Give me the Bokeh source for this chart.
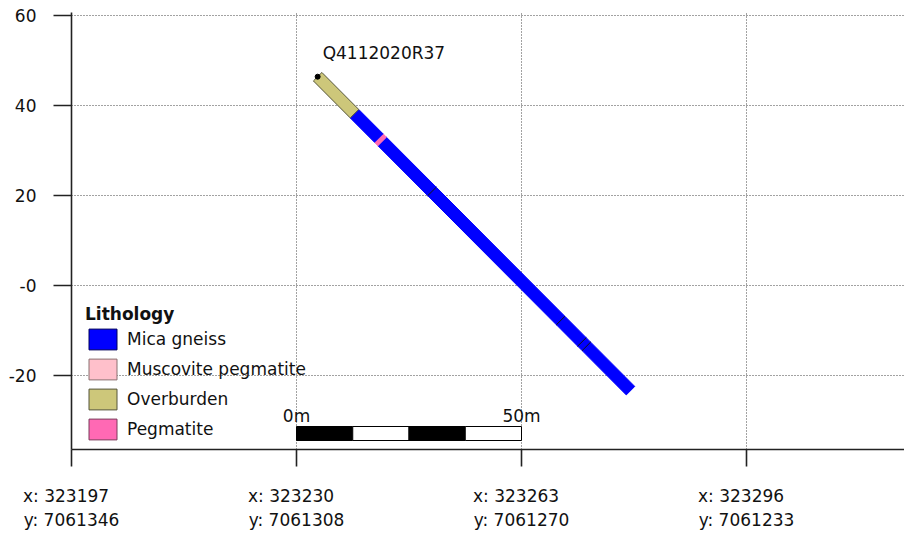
import math
from bokeh.plotting import figure
from bokeh.models import FixedTicker, Legend, LegendItem, Range1d
from bokeh.core.properties import value
from bokeh.embed import file_html
from bokeh.resources import INLINE

# ---------------- data ----------------
section_ticks = [0, 50, 100, 150]
tick_easting = [323197, 323230, 323263, 323296]
tick_northing = [7061346, 7061308, 7061270, 7061233]
elev_ticks = [-20, 0, 20, 40, 60]
elev_labels = ["-20", "-0", "20", "40", "60"]

hole_id = "Q4112020R37"
collar_dist = 54.7
collar_elev = 46.4
hole_dip = 45.1
interval_from = [0.0, 11.6, 19.4, 20.3, 36.0, 76.5, 83.2, 84.6]
interval_to = [11.6, 19.4, 20.3, 36.0, 76.5, 83.2, 84.6, 98.5]
interval_lith = ["Overburden", "Mica gneiss", "Pegmatite", "Mica gneiss",
                 "Mica gneiss", "Mica gneiss", "Mica gneiss", "Mica gneiss"]

lith_names = ["Mica gneiss", "Muscovite pegmatite", "Overburden", "Pegmatite"]
lith_fill = ["#0000ff", "#ffc0cb", "#cdc77a", "#ff69b4"]
lith_edge = ["#00005a", "#8a7070", "#55553a", "#7a3a5a"]

scale_start = 50
scale_len = 50
scale_parts = 4

# ---------------- layout ----------------
PX = 4.5            # pixels per metre (both axes)
FONT = "DejaVu Sans"
W, H = 904, 540
BL, BB, BT, BR = 71, 91, 12, 0
frame_w = W - BL - BR
frame_h = H - BT - BB
y_bottom = -164 / PX

p = figure(width=W, height=H, output_backend="svg", toolbar_location=None,
           title=None,
           x_range=Range1d(0, frame_w / PX),
           y_range=Range1d(y_bottom, y_bottom + frame_h / PX),
           min_border_left=BL, min_border_right=BR,
           min_border_top=BT, min_border_bottom=BB)
p.outline_line_color = None
p.background_fill_color = "white"

# axes
for ax in (p.xaxis[0], p.yaxis[0]):
    ax.axis_line_color = "#222"
    ax.axis_line_width = 1.6
    ax.major_tick_line_color = "#222"
    ax.major_tick_line_width = 1.6
    ax.major_tick_in = 0
    ax.minor_tick_in = 0
    ax.minor_tick_out = 0
    ax.major_label_text_font = FONT
    ax.major_label_text_font_size = "17px"
    ax.major_label_text_color = "#111"

p.yaxis.ticker = FixedTicker(ticks=elev_ticks)
p.yaxis.major_label_overrides = {t: l for t, l in zip(elev_ticks, elev_labels)}
p.yaxis.major_tick_out = 18
p.yaxis.major_label_standoff = 17

p.xaxis.ticker = FixedTicker(ticks=section_ticks)
p.xaxis.major_label_overrides = {
    t: "x: %d\u00a0\u00a0\ny: %d" % (e, n)
    for t, e, n in zip(section_ticks, tick_easting, tick_northing)
}
p.xaxis.major_tick_out = 17
p.xaxis.major_label_standoff = 19

p.xgrid[0].ticker = FixedTicker(ticks=section_ticks)
p.ygrid[0].ticker = FixedTicker(ticks=elev_ticks)
for g in (p.xgrid[0], p.ygrid[0]):
    g.grid_line_color = "#444"
    g.grid_line_dash = "1 2"
    g.grid_line_width = 1

# ---------------- drill hole ----------------
rad = math.radians(hole_dip)
dx, dy = math.cos(rad), -math.sin(rad)
nx, ny = math.sin(rad), math.cos(rad)
hw = 6.0 / PX  # half width of the trace


def pt(depth):
    return collar_dist + dx * depth, collar_elev + dy * depth


lith_renderers = {}
for name, fc, ec in zip(lith_names, lith_fill, lith_edge):
    xs, ys = [], []
    for f, t, l in zip(interval_from, interval_to, interval_lith):
        if l != name:
            continue
        x0, y0 = pt(f)
        x1, y1 = pt(t)
        xs.append([x0 + nx * hw, x1 + nx * hw, x1 - nx * hw, x0 - nx * hw])
        ys.append([y0 + ny * hw, y1 + ny * hw, y1 - ny * hw, y0 - ny * hw])
    if xs:
        outline = ec if name == "Overburden" else fc
        p.patches(xs=xs, ys=ys, fill_color=fc, line_color=outline, line_width=1)
    # legend proxy, kept outside the visible range
    lith_renderers[name] = p.quad(left=[-20], right=[-19], top=[-60], bottom=[-61],
                                  fill_color=fc, line_color=ec, line_width=1)

# interval boundaries
sx0, sy0, sx1, sy1 = [], [], [], []
for f, prev, cur in zip(interval_from[1:], interval_lith[:-1], interval_lith[1:]):
    if prev != cur:
        continue
    bx, by = pt(f)
    sx0.append(bx - nx * hw)
    sy0.append(by - ny * hw)
    sx1.append(bx + nx * hw)
    sy1.append(by + ny * hw)
p.segment(x0=sx0, y0=sy0, x1=sx1, y1=sy1, line_color="#111", line_width=1)

# collar and label
p.scatter([collar_dist], [collar_elev], size=5, color="black")
p.text(x=[collar_dist], y=[collar_elev], text=[hole_id], x_offset=5, y_offset=-24,
       text_font=value(FONT), text_font_size="17px", text_color="#111",
       text_align="left", text_baseline="alphabetic")

# ---------------- scale bar ----------------
bar_bottom = y_bottom + 9 / PX
bar_top = bar_bottom + 14 / PX
part = scale_len / scale_parts
p.quad(left=[scale_start + i * part for i in range(scale_parts)],
       right=[scale_start + (i + 1) * part for i in range(scale_parts)],
       bottom=[bar_bottom] * scale_parts, top=[bar_top] * scale_parts,
       fill_color=["black" if i % 2 == 0 else "white" for i in range(scale_parts)],
       line_color="black", line_width=1)
p.text(x=[scale_start, scale_start + scale_len], y=[bar_top, bar_top],
       text=["0m", "%dm" % scale_len], y_offset=-11,
       text_font=value(FONT), text_font_size="17px", text_color="#111",
       text_align="center", text_baseline="alphabetic")

# ---------------- legend ----------------
legend = Legend(
    items=[LegendItem(label=n, renderers=[lith_renderers[n]]) for n in lith_names],
    location=(14, 7), title="Lithology",
    title_text_font=FONT, title_text_font_size="17px", title_text_font_style="bold",
    title_text_color="#111", title_standoff=2,
    label_text_font=FONT, label_text_font_size="17px", label_text_color="#111",
    glyph_width=35, glyph_height=26, label_height=26, spacing=4,
    label_standoff=7, padding=0, margin=0,
    border_line_color=None, background_fill_alpha=0,
)
p.add_layout(legend)

open("out.html", "w").write(file_html(p, INLINE))
